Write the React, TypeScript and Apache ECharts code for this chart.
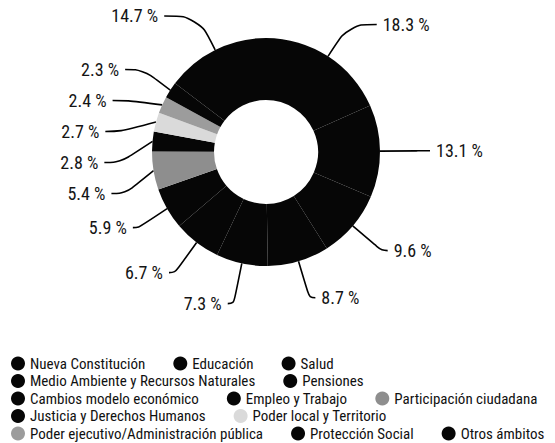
import React, { useEffect, useRef } from 'react';
import * as echarts from 'echarts';

const categories = [
  'Nueva Constitución',
  'Educación',
  'Salud',
  'Medio Ambiente y Recursos Naturales',
  'Pensiones',
  'Cambios modelo económico',
  'Empleo y Trabajo',
  'Participación ciudadana',
  'Justicia y Derechos Humanos',
  'Poder local y Territorio',
  'Poder ejecutivo/Administración pública',
  'Protección Social',
  'Otros ámbitos',
];

const values = [18.3, 13.1, 9.6, 8.7, 7.3, 6.7, 5.9, 5.4, 2.8, 2.7, 2.4, 2.3, 14.7];

const sliceColors = [
  '#060606', '#060606', '#060606', '#060606', '#060606', '#060606', '#060606',
  '#8e8e8e', '#060606', '#dadada', '#9c9c9c', '#060606', '#060606',
];

const legendRows = [
  ['Nueva Constitución', 'Educación', 'Salud'],
  ['Medio Ambiente y Recursos Naturales', 'Pensiones'],
  ['Cambios modelo económico', 'Empleo y Trabajo', 'Participación ciudadana'],
  ['Justicia y Derechos Humanos', 'Poder local y Territorio'],
  ['Poder ejecutivo/Administración pública', 'Protección Social', 'Otros ámbitos'],
];

// longer horizontal leader segments for some labels
const longLeader: Record<string, number> = {
  'Nueva Constitución': 28,
  'Educación': 12,
  'Participación ciudadana': 14,
  'Justicia y Derechos Humanos': 16,
  'Poder local y Territorio': 16,
  'Poder ejecutivo/Administración pública': 16,
  'Protección Social': 18,
  'Otros ámbitos': 34,
};

const FONT = '"Liberation Sans Narrow", "Roboto Condensed", "DejaVu Sans Condensed", Roboto, sans-serif';

export default function App() {
  const ref = useRef<HTMLDivElement>(null);
  useEffect(() => {
    document.body.style.margin = '0';
    if (!ref.current) return;
    const chart = echarts.init(ref.current, null, { renderer: 'svg' });
    const option = {
      animation: false,
      color: sliceColors,
      legend: legendRows.map((row, i) => ({
        data: row,
        left: 11,
        top: 356 + i * 17.5,
        orient: 'horizontal',
        icon: 'circle',
        itemWidth: 14,
        itemHeight: 14,
        itemGap: 28,
        padding: 0,
        selectedMode: false,
        textStyle: { fontFamily: FONT, fontSize: 15, color: '#111' },
      })),
      series: [
        {
          type: 'pie',
          center: [266, 152],
          radius: [52, 114],
          startAngle: 90,
          clockwise: true,
          avoidLabelOverlap: true,
          itemStyle: { borderWidth: 0, borderColor: 'transparent' },
          label: {
            show: true,
            position: 'outside',
            fontFamily: FONT,
            fontSize: 18,
            lineHeight: 29,
            color: '#141414',
            distanceToLabelLine: 6,
            formatter: (p: any) => p.value.toFixed(1) + ' %',
          },
          labelLine: {
            show: true,
            length: 38,
            length2: 6,
            smooth: 0.4,
            lineStyle: { color: '#000', width: 1.6 },
          },
          emphasis: { disabled: true },
          data: categories.map((name, i) => ({
            name,
            value: values[i],
            ...(longLeader[name] ? { labelLine: { length2: longLeader[name] } } : {}),
          })),
        },
      ],
    };
    chart.setOption(option as any);
    return () => chart.dispose();
  }, []);
  return <div ref={ref} style={{ width: 555, height: 443 }} />;
}
